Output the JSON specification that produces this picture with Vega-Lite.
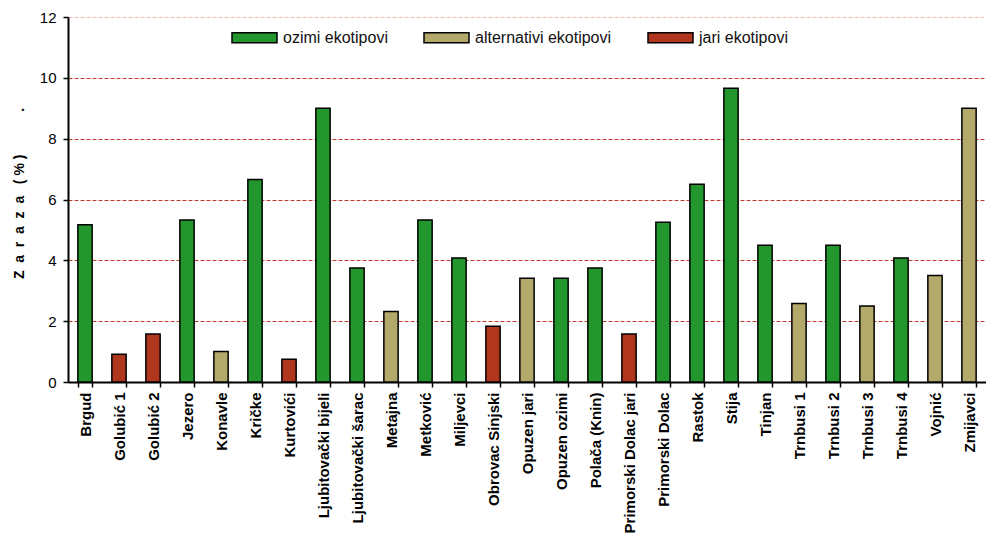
{
  "$schema": "https://vega.github.io/schema/vega-lite/v6.json",
  "width": 918,
  "height": 365,
  "autosize": {"type": "none"},
  "padding": {"left": 68, "top": 17, "right": 0, "bottom": 159},
  "background": "white",
  "config": {
    "font": "Liberation Sans",
    "view": {"stroke": null}
  },
  "data": {
    "values": [
      {"lokacija": "Brgud", "zaraza": 5.17, "tip": "ozimi ekotipovi"},
      {"lokacija": "Golubić 1", "zaraza": 0.91, "tip": "jari ekotipovi"},
      {"lokacija": "Golubić 2", "zaraza": 1.58, "tip": "jari ekotipovi"},
      {"lokacija": "Jezero", "zaraza": 5.33, "tip": "ozimi ekotipovi"},
      {"lokacija": "Konavle", "zaraza": 1.0, "tip": "alternativi ekotipovi"},
      {"lokacija": "Kričke", "zaraza": 6.66, "tip": "ozimi ekotipovi"},
      {"lokacija": "Kurtovići", "zaraza": 0.75, "tip": "jari ekotipovi"},
      {"lokacija": "Ljubitovački bijeli", "zaraza": 9.0, "tip": "ozimi ekotipovi"},
      {"lokacija": "Ljubitovački šarac", "zaraza": 3.75, "tip": "ozimi ekotipovi"},
      {"lokacija": "Metajna", "zaraza": 2.32, "tip": "alternativi ekotipovi"},
      {"lokacija": "Metković", "zaraza": 5.33, "tip": "ozimi ekotipovi"},
      {"lokacija": "Miljevci", "zaraza": 4.08, "tip": "ozimi ekotipovi"},
      {"lokacija": "Obrovac Sinjski", "zaraza": 1.83, "tip": "jari ekotipovi"},
      {"lokacija": "Opuzen jari", "zaraza": 3.41, "tip": "alternativi ekotipovi"},
      {"lokacija": "Opuzen ozimi", "zaraza": 3.41, "tip": "ozimi ekotipovi"},
      {"lokacija": "Polača (Knin)", "zaraza": 3.75, "tip": "ozimi ekotipovi"},
      {"lokacija": "Primorski Dolac jari", "zaraza": 1.58, "tip": "jari ekotipovi"},
      {"lokacija": "Primorski Dolac", "zaraza": 5.25, "tip": "ozimi ekotipovi"},
      {"lokacija": "Rastok", "zaraza": 6.5, "tip": "ozimi ekotipovi"},
      {"lokacija": "Stija", "zaraza": 9.66, "tip": "ozimi ekotipovi"},
      {"lokacija": "Tinjan", "zaraza": 4.5, "tip": "ozimi ekotipovi"},
      {"lokacija": "Trnbusi 1", "zaraza": 2.58, "tip": "alternativi ekotipovi"},
      {"lokacija": "Trnbusi 2", "zaraza": 4.5, "tip": "ozimi ekotipovi"},
      {"lokacija": "Trnbusi 3", "zaraza": 2.5, "tip": "alternativi ekotipovi"},
      {"lokacija": "Trnbusi 4", "zaraza": 4.08, "tip": "ozimi ekotipovi"},
      {"lokacija": "Vojnić", "zaraza": 3.5, "tip": "alternativi ekotipovi"},
      {"lokacija": "Zmijavci", "zaraza": 9.0, "tip": "alternativi ekotipovi"}
    ]
  },
  "mark": {"type": "bar", "stroke": "black", "strokeWidth": 1.5},
  "encoding": {
    "x": {
      "field": "lokacija",
      "type": "nominal",
      "sort": null,
      "scale": {"paddingInner": 0.58, "paddingOuter": 0.29},
      "axis": {
        "title": null,
        "labelAngle": -90,
        "labelAlign": "right",
        "labelBaseline": "middle",
        "labelFont": "Liberation Sans",
        "labelFontSize": 15,
        "labelFontWeight": "bold",
        "labelColor": "black",
        "labelPadding": 5,
        "labelLimit": 300,
        "tickBand": "extent",
        "tickColor": "black",
        "tickSize": 5,
        "tickWidth": 1.5,
        "domainColor": "black",
        "domainWidth": 2,
        "grid": false
      }
    },
    "y": {
      "field": "zaraza",
      "type": "quantitative",
      "scale": {"domain": [0, 12], "nice": false},
      "axis": {
        "title": "Z\u00a0\u00a0a\u00a0\u00a0r\u00a0\u00a0a\u00a0\u00a0z\u00a0\u00a0a\u00a0\u00a0\u00a0(\u00a0%\u00a0)\u00a0\u00a0\u00a0\u00a0\u00a0\u00a0\u00a0\u00a0\u00a0\u00a0\u00a0.",
        "titleFont": "Liberation Sans",
        "titleFontSize": 14,
        "titleFontWeight": "bold",
        "titleColor": "black",
        "titleBaseline": "alphabetic",
        "titleX": -45,
        "titleY": 176,
        "values": [0, 2, 4, 6, 8, 10, 12],
        "labelFont": "Liberation Sans",
        "labelFontSize": 15,
        "labelColor": "black",
        "labelPadding": 7,
        "tickColor": "black",
        "tickSize": 5,
        "tickWidth": 1.5,
        "domainColor": "black",
        "domainWidth": 2,
        "grid": true,
        "gridColor": {
          "condition": {"test": "datum.value == 12", "value": "#f2b8b0"},
          "value": "#c0392b"
        },
        "gridDash": [4, 2],
        "gridWidth": 1
      }
    },
    "fill": {
      "field": "tip",
      "type": "nominal",
      "scale": {
        "domain": ["ozimi ekotipovi", "alternativi ekotipovi", "jari ekotipovi"],
        "range": ["#23962d", "#b3a96b", "#b0361d"]
      },
      "legend": {
        "title": null,
        "orient": "none",
        "direction": "horizontal",
        "legendX": 163,
        "legendY": -3,
        "symbolType": "M-1,-0.222H1V0.222H-1Z",
        "symbolSize": 2025,
        "symbolStrokeColor": "black",
        "symbolStrokeWidth": 1.5,
        "symbolOpacity": 1,
        "labelFont": "Liberation Sans",
        "labelFontSize": 16,
        "labelColor": "#111111",
        "labelOffset": 5,
        "columnPadding": 33,
        "labelLimit": 300
      }
    }
  }
}
